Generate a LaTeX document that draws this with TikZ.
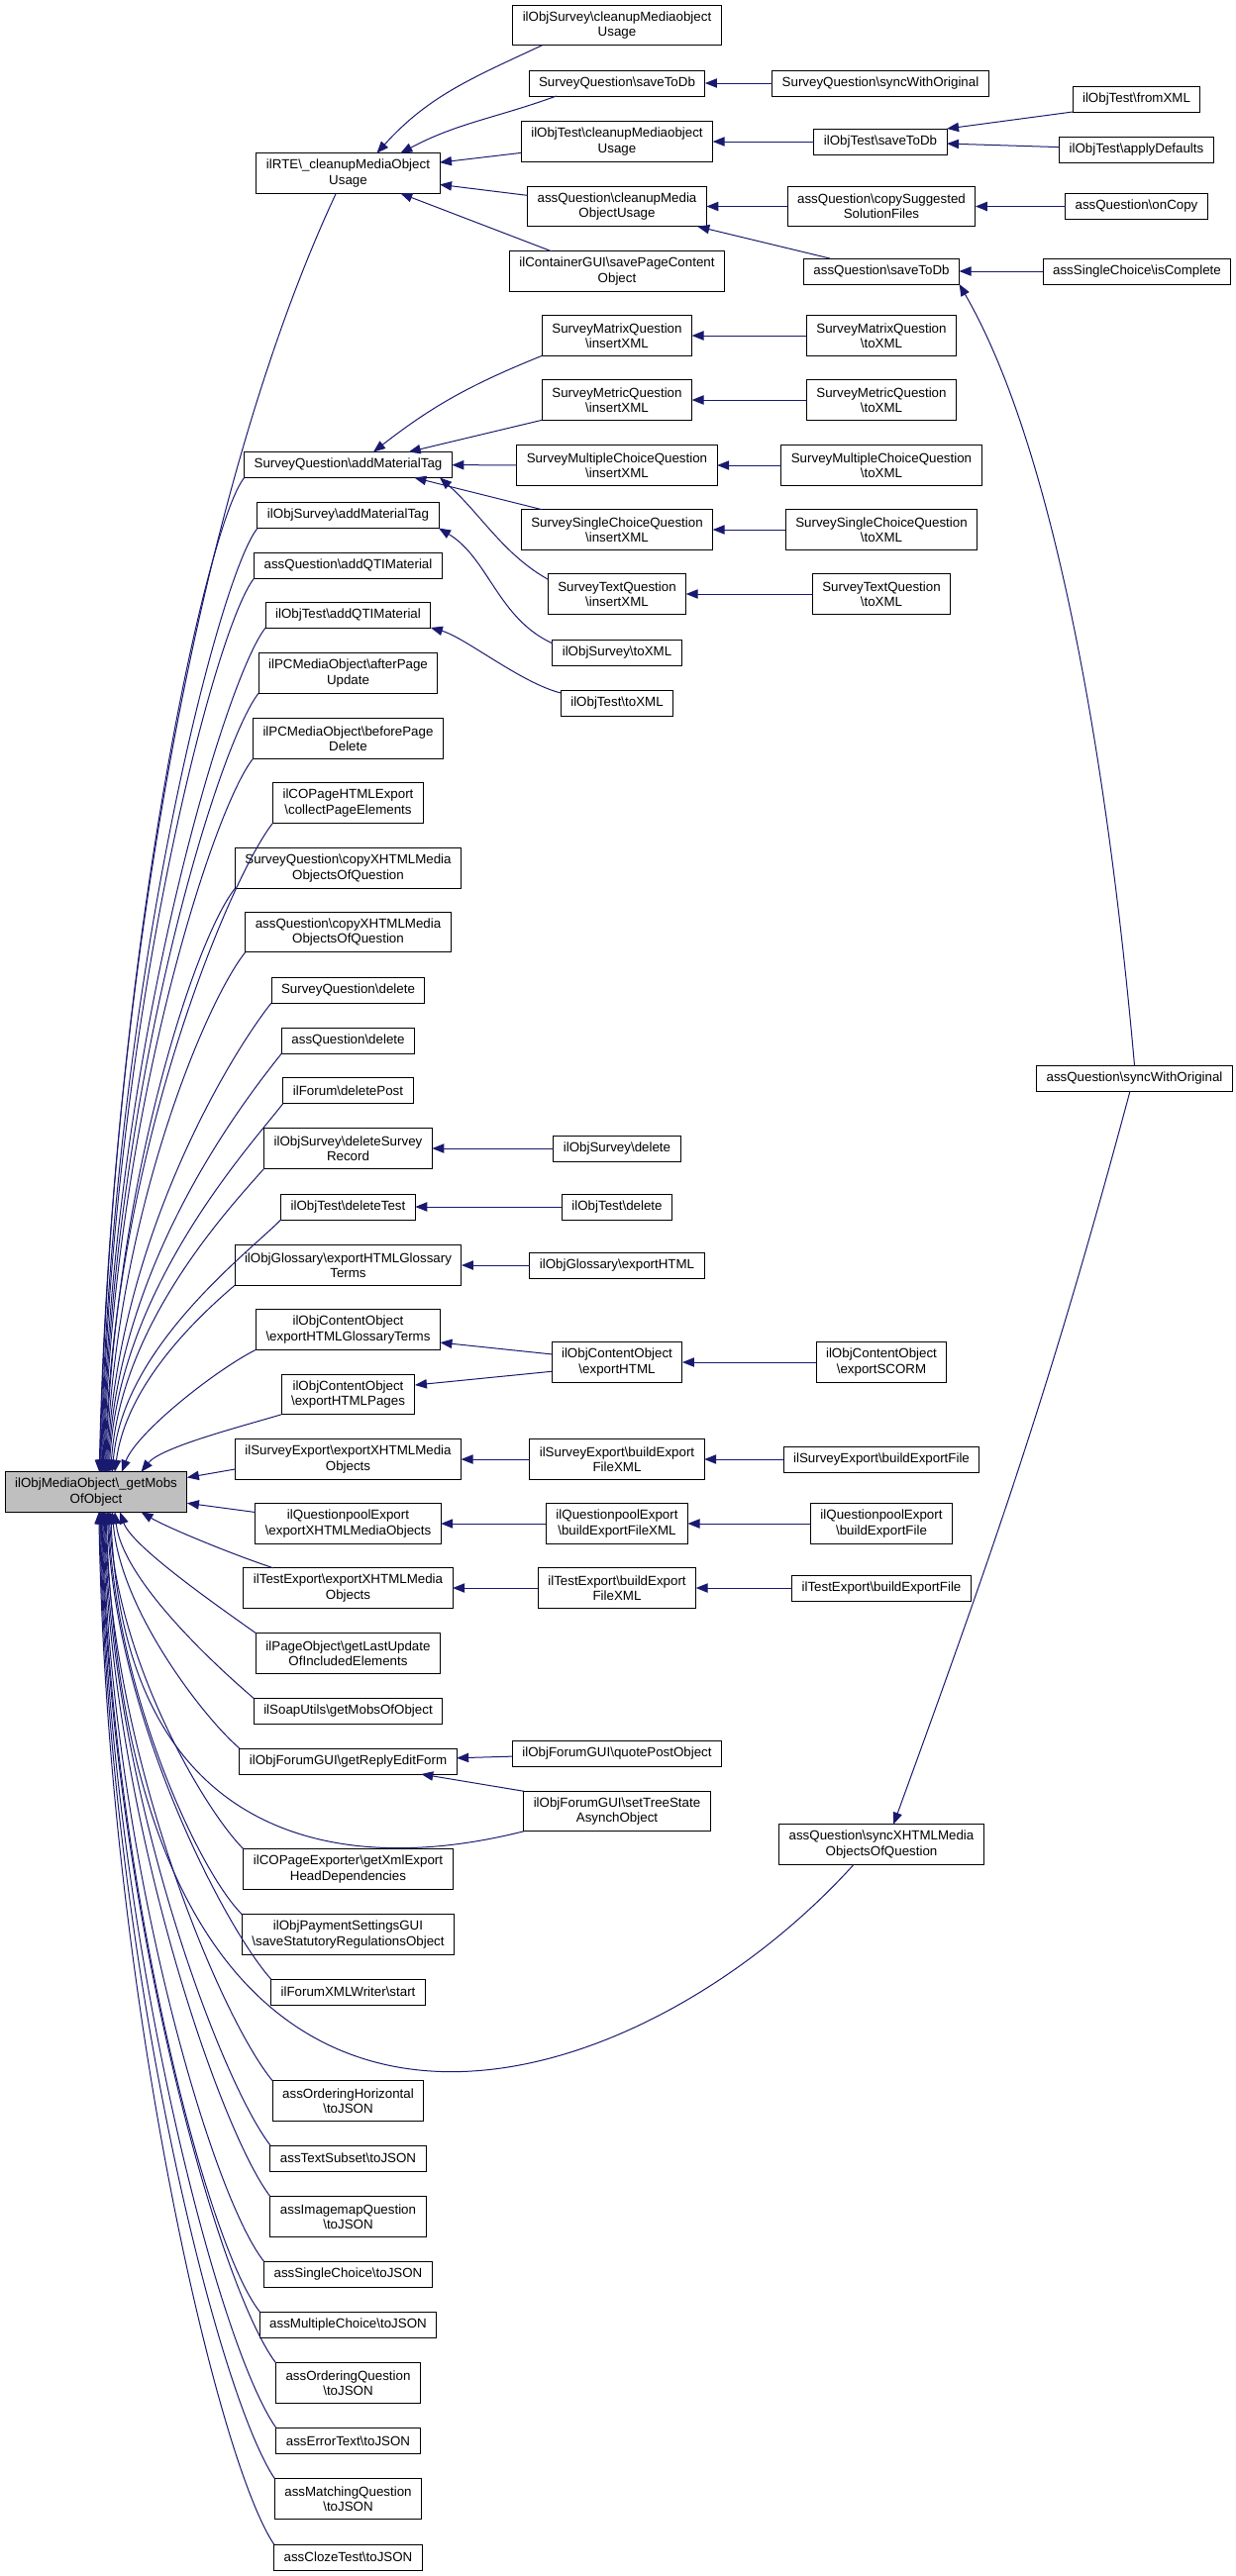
\documentclass[tikz,border=0pt]{standalone}
\usepackage{fontspec}
\setmainfont{Liberation Sans}
\usetikzlibrary{arrows.meta}
\definecolor{linkblue}{HTML}{191970}
\definecolor{rootgray}{HTML}{BFBFBF}
\newcommand{\ns}{\textbackslash}
\begin{document}
\begin{tikzpicture}[x=0.75pt,y=0.75pt,inner sep=0pt,outer sep=0pt,line width=0.75pt,
>={Triangle[length=9pt,width=7pt]},
fnblock/.style={draw,rectangle,fill=white,align=center,inner xsep=7.5pt,inner ysep=2pt,minimum height=19.5pt,font=\fontsize{10}{11.5}\selectfont},
twoline/.style={minimum height=30.4pt},
rootblock/.style={fnblock,twoline,fill=rootgray},
calls/.style={color=linkblue}]
\useasboundingbox (0,0) rectangle (1247,-2602);
\draw (97,-1507) node[rootblock] (mobs) {ilObjMediaObject\ns\_getMobs\\OfObject};

% first column
\draw (351.5,-175) node[fnblock,twoline] (rte) {ilRTE\ns\_cleanupMediaObject\\Usage};
\draw (351.5,-469.5) node[fnblock] (sqAdd) {SurveyQuestion\ns addMaterialTag};
\draw (351.5,-520.5) node[fnblock] (osAdd) {ilObjSurvey\ns addMaterialTag};
\draw (351.5,-571) node[fnblock] (aqQti) {assQuestion\ns addQTIMaterial};
\draw (351.5,-621) node[fnblock] (otQti) {ilObjTest\ns addQTIMaterial};
\draw (351.5,-680) node[fnblock,twoline] (pcAfter) {ilPCMediaObject\ns afterPage\\Update};
\draw (351.5,-746) node[fnblock,twoline] (pcBefore) {ilPCMediaObject\ns beforePage\\Delete};
\draw (351.5,-811) node[fnblock,twoline] (coCollect) {ilCOPageHTMLExport\\\ns collectPageElements};
\draw (351.5,-877) node[fnblock,twoline] (sqCopy) {SurveyQuestion\ns copyXHTMLMedia\\ObjectsOfQuestion};
\draw (351.5,-941.5) node[fnblock,twoline] (aqCopy) {assQuestion\ns copyXHTMLMedia\\ObjectsOfQuestion};
\draw (351.5,-1000) node[fnblock] (sqDel) {SurveyQuestion\ns delete};
\draw (351.5,-1051) node[fnblock] (aqDel) {assQuestion\ns delete};
\draw (351.5,-1101.5) node[fnblock] (fDel) {ilForum\ns deletePost};
\draw (351.5,-1160) node[fnblock,twoline] (osDelRec) {ilObjSurvey\ns deleteSurvey\\Record};
\draw (351.5,-1219) node[fnblock] (otDelTest) {ilObjTest\ns deleteTest};
\draw (351.5,-1278) node[fnblock,twoline] (ogTerms) {ilObjGlossary\ns exportHTMLGlossary\\Terms};
\draw (351.5,-1343) node[fnblock,twoline] (coTerms) {ilObjContentObject\\\ns exportHTMLGlossaryTerms};
\draw (351.5,-1408.5) node[fnblock,twoline] (coPages) {ilObjContentObject\\\ns exportHTMLPages};
\draw (351.5,-1474) node[fnblock,twoline] (seMedia) {ilSurveyExport\ns exportXHTMLMedia\\Objects};
\draw (351.5,-1539) node[fnblock,twoline] (qpMedia) {ilQuestionpoolExport\\\ns exportXHTMLMediaObjects};
\draw (351.5,-1604) node[fnblock,twoline] (teMedia) {ilTestExport\ns exportXHTMLMedia\\Objects};
\draw (351.5,-1670) node[fnblock,twoline] (poUpdate) {ilPageObject\ns getLastUpdate\\OfIncludedElements};
\draw (351.5,-1728.5) node[fnblock] (suMobs) {ilSoapUtils\ns getMobsOfObject};
\draw (351.5,-1779) node[fnblock] (fgReply) {ilObjForumGUI\ns getReplyEditForm};
\draw (351.5,-1888) node[fnblock,twoline] (cpHead) {ilCOPageExporter\ns getXmlExport\\HeadDependencies};
\draw (351.5,-1954) node[fnblock,twoline] (psSave) {ilObjPaymentSettingsGUI\\\ns saveStatutoryRegulationsObject};
\draw (351.5,-2012) node[fnblock] (fwStart) {ilForumXMLWriter\ns start};
\draw (351.5,-2122) node[fnblock,twoline] (ohJson) {assOrderingHorizontal\\\ns toJSON};
\draw (351.5,-2180) node[fnblock] (tsJson) {assTextSubset\ns toJSON};
\draw (351.5,-2239) node[fnblock,twoline] (imJson) {assImagemapQuestion\\\ns toJSON};
\draw (351.5,-2297.5) node[fnblock] (scJson) {assSingleChoice\ns toJSON};
\draw (351.5,-2348) node[fnblock] (mcJson) {assMultipleChoice\ns toJSON};
\draw (351.5,-2407) node[fnblock,twoline] (oqJson) {assOrderingQuestion\\\ns toJSON};
\draw (351.5,-2465.5) node[fnblock] (etJson) {assErrorText\ns toJSON};
\draw (351.5,-2524) node[fnblock,twoline] (mqJson) {assMatchingQuestion\\\ns toJSON};
\draw (351.5,-2583) node[fnblock] (ctJson) {assClozeTest\ns toJSON};

% second column
\draw (623,-25.5) node[fnblock,twoline] (osClean) {ilObjSurvey\ns cleanupMediaobject\\Usage};
\draw (623,-84) node[fnblock] (sqSave) {SurveyQuestion\ns saveToDb};
\draw (623,-143) node[fnblock,twoline] (otClean) {ilObjTest\ns cleanupMediaobject\\Usage};
\draw (623,-208.5) node[fnblock,twoline] (aqClean) {assQuestion\ns cleanupMedia\\ObjectUsage};
\draw (623,-274) node[fnblock,twoline] (cgSave) {ilContainerGUI\ns savePageContent\\Object};
\draw (623,-339) node[fnblock,twoline] (smIns) {SurveyMatrixQuestion\\\ns insertXML};
\draw (623,-404) node[fnblock,twoline] (smeIns) {SurveyMetricQuestion\\\ns insertXML};
\draw (623,-470) node[fnblock,twoline] (smcIns) {SurveyMultipleChoiceQuestion\\\ns insertXML};
\draw (623,-535) node[fnblock,twoline] (sscIns) {SurveySingleChoiceQuestion\\\ns insertXML};
\draw (623,-600) node[fnblock,twoline] (stIns) {SurveyTextQuestion\\\ns insertXML};
\draw (623,-659) node[fnblock] (osXml) {ilObjSurvey\ns toXML};
\draw (623,-710) node[fnblock] (otXml) {ilObjTest\ns toXML};
\draw (623,-1160) node[fnblock] (osDel) {ilObjSurvey\ns delete};
\draw (623,-1219) node[fnblock] (otDel) {ilObjTest\ns delete};
\draw (623,-1278) node[fnblock] (ogHtml) {ilObjGlossary\ns exportHTML};
\draw (623,-1376) node[fnblock,twoline] (coHtml) {ilObjContentObject\\\ns exportHTML};
\draw (623,-1474) node[fnblock,twoline] (seFileXml) {ilSurveyExport\ns buildExport\\FileXML};
\draw (623,-1539) node[fnblock,twoline] (qpFileXml) {ilQuestionpoolExport\\\ns buildExportFileXML};
\draw (623,-1604) node[fnblock,twoline] (teFileXml) {ilTestExport\ns buildExport\\FileXML};
\draw (623,-1771) node[fnblock] (fgQuote) {ilObjForumGUI\ns quotePostObject};
\draw (623,-1829.5) node[fnblock,twoline] (fgTree) {ilObjForumGUI\ns setTreeState\\AsynchObject};

% third column
\draw (889,-84) node[fnblock] (sqSync) {SurveyQuestion\ns syncWithOriginal};
\draw (889,-143) node[fnblock] (otSave) {ilObjTest\ns saveToDb};
\draw (890,-208.5) node[fnblock,twoline] (aqCopySol) {assQuestion\ns copySuggested\\SolutionFiles};
\draw (890,-274) node[fnblock] (aqSave) {assQuestion\ns saveToDb};
\draw (890,-339) node[fnblock,twoline] (smXml) {SurveyMatrixQuestion\\\ns toXML};
\draw (890,-404) node[fnblock,twoline] (smeXml) {SurveyMetricQuestion\\\ns toXML};
\draw (890,-470) node[fnblock,twoline] (smcXml) {SurveyMultipleChoiceQuestion\\\ns toXML};
\draw (890,-535) node[fnblock,twoline] (sscXml) {SurveySingleChoiceQuestion\\\ns toXML};
\draw (890,-600) node[fnblock,twoline] (stXml) {SurveyTextQuestion\\\ns toXML};
\draw (890,-1376) node[fnblock,twoline] (coScorm) {ilObjContentObject\\\ns exportSCORM};
\draw (890,-1474) node[fnblock] (seFile) {ilSurveyExport\ns buildExportFile};
\draw (890,-1539) node[fnblock,twoline] (qpFile) {ilQuestionpoolExport\\\ns buildExportFile};
\draw (890,-1604) node[fnblock] (teFile) {ilTestExport\ns buildExportFile};
\draw (890,-1863) node[fnblock,twoline] (aqSyncX) {assQuestion\ns syncXHTMLMedia\\ObjectsOfQuestion};

% fourth column
\draw (1147.5,-100) node[fnblock] (otFrom) {ilObjTest\ns fromXML};
\draw (1147.5,-151) node[fnblock] (otApply) {ilObjTest\ns applyDefaults};
\draw (1147.5,-208.5) node[fnblock] (aqOnCopy) {assQuestion\ns onCopy};
\draw (1148,-274) node[fnblock] (scComplete) {assSingleChoice\ns isComplete};
\draw (1145.5,-1089) node[fnblock] (aqSyncO) {assQuestion\ns syncWithOriginal};

% callers of the root, above it
\draw[calls,<-] (mobs.81) .. controls +(10,450) and +(-148,-317) .. (rte.239);
\draw[calls,<-] (mobs.79) .. controls +(10,500) and +(-40,-50) .. (sqAdd.south west);
\draw[calls,<-] (mobs.77) .. controls +(10,475) and +(-40,-50) .. (osAdd.south west);
\draw[calls,<-] (mobs.75) .. controls +(10,450) and +(-40,-50) .. (aqQti.south west);
\draw[calls,<-] (mobs.73) .. controls +(10,425) and +(-40,-50) .. (otQti.south west);
\draw[calls,<-] (mobs.71) .. controls +(10,390) and +(-40,-50) .. (pcAfter.south west);
\draw[calls,<-] (mobs.69) .. controls +(10,360) and +(-40,-50) .. (pcBefore.south west);
\draw[calls,<-] (mobs.67) .. controls +(10,330) and +(-40,-50) .. (coCollect.south west);
\draw[calls,<-] (mobs.65) .. controls +(10,295) and +(-40,-50) .. (sqCopy.south west);
\draw[calls,<-] (mobs.63) .. controls +(10,260) and +(-40,-50) .. (aqCopy.south west);
\draw[calls,<-] (mobs.61) .. controls +(10,235) and +(-40,-50) .. (sqDel.south west);
\draw[calls,<-] (mobs.59) .. controls +(10,210) and +(-40,-50) .. (aqDel.south west);
\draw[calls,<-] (mobs.57) .. controls +(10,185) and +(-35,-45) .. (fDel.south west);
\draw[calls,<-] (mobs.54) .. controls +(10,150) and +(-35,-40) .. (osDelRec.south west);
\draw[calls,<-] (mobs.51) .. controls +(10,125) and +(-35,-35) .. (otDelTest.south west);
\draw[calls,<-] (mobs.47) .. controls +(12,90) and +(-35,-30) .. (ogTerms.south west);
\draw[calls,<-] (mobs.38) .. controls +(15,40) and +(-40,-20) .. (coTerms.south west);
\draw[calls,<-] (mobs.24) .. controls +(20,25) and +(-40,-12) .. (coPages.south west);
\draw[calls,<-] (mobs.9) -- (seMedia.185);
\draw[calls,<-] (mobs.-7) -- (qpMedia.173);

% callers of the root, below it
\draw[calls,<-] (mobs.-24) .. controls +(25,-15) and +(-45,15) .. (teMedia.165);
\draw[calls,<-] (mobs.-40) .. controls +(12,-35) and +(-35,25) .. (poUpdate.north west);
\draw[calls,<-] (mobs.-47) .. controls +(8,-70) and +(-35,30) .. (suMobs.north west);
\draw[calls,<-] (mobs.-51) .. controls +(8,-100) and +(-35,30) .. (fgReply.north west);
\draw[calls,<-] (mobs.-54) .. controls (125,-1850) and (330,-1900) .. (fgTree.south west);
\draw[calls,<-] (mobs.-57) .. controls +(8,-150) and +(-40,40) .. (cpHead.north west);
\draw[calls,<-] (mobs.-59) .. controls +(8,-180) and +(-45,45) .. (psSave.north west);
\draw[calls,<-] (mobs.-61) .. controls +(8,-210) and +(-45,50) .. (fwStart.north west);
\draw[calls,<-] (mobs.-64) .. controls (135,-2290) and (630,-2140) .. (aqSyncX.216);
\draw[calls,<-] (mobs.-66) .. controls +(8,-255) and +(-50,60) .. (ohJson.north west);
\draw[calls,<-] (mobs.-68) .. controls +(8,-285) and +(-50,65) .. (tsJson.north west);
\draw[calls,<-] (mobs.-70) .. controls +(8,-310) and +(-50,65) .. (imJson.north west);
\draw[calls,<-] (mobs.-72) .. controls +(8,-340) and +(-55,70) .. (scJson.north west);
\draw[calls,<-] (mobs.-74) .. controls +(8,-360) and +(-55,70) .. (mcJson.north west);
\draw[calls,<-] (mobs.-76) .. controls +(8,-385) and +(-60,80) .. (oqJson.north west);
\draw[calls,<-] (mobs.-78) .. controls +(8,-415) and +(-60,85) .. (etJson.north west);
\draw[calls,<-] (mobs.-80) .. controls +(8,-440) and +(-60,90) .. (mqJson.north west);
\draw[calls,<-] (mobs.-82) .. controls +(8,-470) and +(-60,90) .. (ctJson.north west);

% cleanup branch
\draw[calls,<-] (rte.35) to[out=48,in=205] (osClean.195);
\draw[calls,<-] (rte.21) to[out=28,in=200] (sqSave.192);
\draw[calls,<-] (rte) -- (otClean);
\draw[calls,<-] (rte) -- (aqClean);
\draw[calls,<-] (rte.-21) -- (cgSave.163);
\draw[calls,<-] (sqSave) -- (sqSync);
\draw[calls,<-] (otClean) -- (otSave);
\draw[calls,<-] (otSave.north east) -- (otFrom.south west);
\draw[calls,<-] (otSave) -- (otApply);
\draw[calls,<-] (aqClean) -- (aqCopySol);
\draw[calls,<-] (aqCopySol) -- (aqOnCopy);
\draw[calls,<-] (aqClean.-14) -- (aqSave.166);
\draw[calls,<-] (aqSave) -- (scComplete);
\draw[calls,<-] (aqSave.south east) .. controls +(95,-165) and +(-28,315) .. (aqSyncO.north);
\draw[calls,<-] (aqSyncX.59) to[out=70,in=255] (aqSyncO.251);

% material tags
\draw[calls,<-] (sqAdd.27) to[out=38,in=202] (smIns.south west);
\draw[calls,<-] (sqAdd.12) -- (smeIns.south west);
\draw[calls,<-] (sqAdd) -- (smcIns);
\draw[calls,<-] (sqAdd.-11) -- (sscIns.165);
\draw[calls,<-] (sqAdd.-8) .. controls +(40,-35) and +(-45,25) .. (stIns.168);
\draw[calls,<-] (smIns) -- (smXml);
\draw[calls,<-] (smeIns) -- (smeXml);
\draw[calls,<-] (smcIns) -- (smcXml);
\draw[calls,<-] (sscIns) -- (sscXml);
\draw[calls,<-] (stIns) -- (stXml);
\draw[calls,<-] (osAdd.south east) .. controls +(50,-30) and +(-55,25) .. (osXml.172);
\draw[calls,<-] (otQti.south east) .. controls +(35,-10) and +(-40,10) .. (otXml.170);

% delete and export chains
\draw[calls,<-] (osDelRec) -- (osDel);
\draw[calls,<-] (otDelTest) -- (otDel);
\draw[calls,<-] (ogTerms) -- (ogHtml);
\draw[calls,<-] (coTerms.-8) -- (coHtml.173);
\draw[calls,<-] (coPages.8) -- (coHtml.188);
\draw[calls,<-] (coHtml) -- (coScorm);
\draw[calls,<-] (seMedia) -- (seFileXml);
\draw[calls,<-] (seFileXml) -- (seFile);
\draw[calls,<-] (qpMedia) -- (qpFileXml);
\draw[calls,<-] (qpFileXml) -- (qpFile);
\draw[calls,<-] (teMedia) -- (teFileXml);
\draw[calls,<-] (teFileXml) -- (teFile);
\draw[calls,<-] (fgReply) -- (fgQuote);
\draw[calls,<-] (fgReply.-10) -- (fgTree.north west);
\end{tikzpicture}
\end{document}
